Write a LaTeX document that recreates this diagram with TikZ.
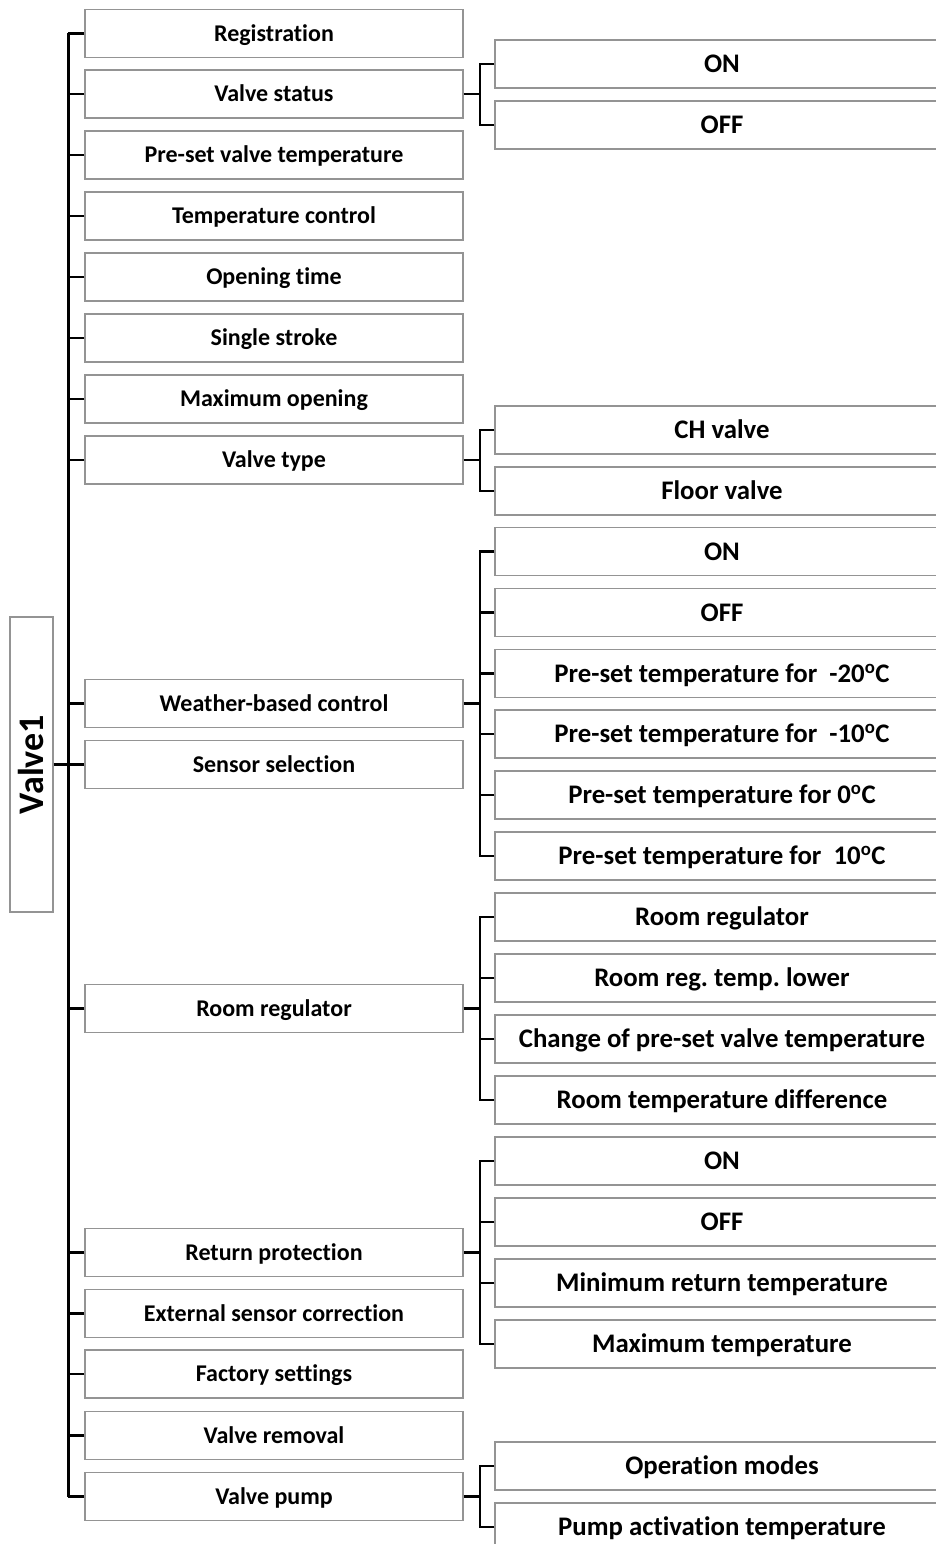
\documentclass[tikz,border=0pt]{standalone}
\usepackage{fontspec}
\setmainfont{Carlito}[Ligatures={NoCommon}]
\frenchspacing
\begin{document}
\begin{tikzpicture}[x=1pt,y=-1pt,
  box/.style={draw=black!42,line width=1.3pt,fill=white,inner sep=0pt,text depth=0pt},
  lbox/.style={box,minimum width=378pt,minimum height=48pt,text height=15.4pt,font=\bfseries\fontsize{24}{28}\selectfont},
  rbox/.style={box,minimum width=454pt,minimum height=48pt,text height=17.2pt,font=\bfseries\fontsize{26.8}{30}\selectfont},
  trunk/.style={line width=3pt,black},
  branch/.style={line width=2.2pt,black}]
\useasboundingbox (0,0) rectangle (936,1544);
\clip (0,0) rectangle (936,1544);
\def\L{274}\def\R{722}
% root
\node[box,minimum width=295pt,minimum height=43pt,text height=23pt,rotate=90,font=\bfseries\fontsize{36}{40}\selectfont] (v1) at (31.5,764.5) {Valve1};
% left level
\node[lbox] (reg) at (\L,33.5) {Registration};
\node[lbox] (vs) at (\L,94) {Valve status};
\node[lbox] (pvt) at (\L,155) {Pre-set valve temperature};
\node[lbox] (tc) at (\L,216) {Temperature control};
\node[lbox] (ot) at (\L,277) {Opening time};
\node[lbox] (ss) at (\L,338) {Single stroke};
\node[lbox] (mo) at (\L,399) {Maximum opening};
\node[lbox] (vt) at (\L,460) {Valve type};
\node[lbox] (wb) at (\L,703.5) {Weather-based control};
\node[lbox] (sel) at (\L,764.5) {Sensor selection};
\node[lbox] (rr) at (\L,1008.5) {Room regulator};
\node[lbox] (rp) at (\L,1252.5) {Return protection};
\node[lbox] (esc) at (\L,1313.5) {External sensor correction};
\node[lbox] (fs) at (\L,1374) {Factory settings};
\node[lbox] (vr) at (\L,1435.5) {Valve removal};
\node[lbox] (vp) at (\L,1496.5) {Valve pump};
% right level
\node[rbox] (vson) at (\R,64) {ON};
\node[rbox] (vsoff) at (\R,125) {OFF};
\node[rbox] (ch) at (\R,430) {CH valve};
\node[rbox] (fv) at (\R,491) {Floor valve};
\node[rbox] (wbon) at (\R,551.5) {ON};
\node[rbox] (wboff) at (\R,612.5) {OFF};
\node[rbox] (t1) at (\R,673.5) {Pre-set temperature for\ \ -20\textsuperscript{o}C};
\node[rbox] (t2) at (\R,734) {Pre-set temperature for\ \ -10\textsuperscript{o}C};
\node[rbox] (t3) at (\R,795) {Pre-set temperature for 0\textsuperscript{o}C};
\node[rbox] (t4) at (\R,856) {Pre-set temperature for\ \ 10\textsuperscript{o}C};
\node[rbox] (rr1) at (\R,917) {Room regulator};
\node[rbox] (rr2) at (\R,978) {Room reg. temp. lower};
\node[rbox] (rr3) at (\R,1039) {Change of pre-set valve temperature};
\node[rbox] (rr4) at (\R,1100) {Room temperature difference};
\node[rbox] (rpon) at (\R,1161) {ON};
\node[rbox] (rpoff) at (\R,1222) {OFF};
\node[rbox] (rp3) at (\R,1283) {Minimum return temperature};
\node[rbox] (rp4) at (\R,1344) {Maximum temperature};
\node[rbox] (om) at (\R,1466) {Operation modes};
\node[rbox] (pa) at (\R,1527) {Pump activation temperature};
% trunk
\coordinate (ttop) at (68,33.5);
\coordinate (tbot) at (68,1496.5);
\draw[trunk] (ttop) -- (tbot);
\draw[branch] (v1.south) -- (v1.south -| ttop);
\foreach \n in {reg,vs,pvt,tc,ot,ss,mo,vt,wb,sel,rr,rp,esc,fs,vr,vp}
  \draw[branch] (\n.west) -- (\n.west -| ttop);
% sub branches
\foreach \p/\kids in {vs/{vson,vsoff},vt/{ch,fv},wb/{wbon,wboff,t1,t2,t3,t4},rr/{rr1,rr2,rr3,rr4},rp/{rpon,rpoff,rp3,rp4},vp/{om,pa}}{
  \draw[branch] (\p.east) -- ++(16,0) coordinate (j\p);
  \foreach \k in \kids
    \draw[branch] (\k.west) -| (j\p);
}
\end{tikzpicture}
\end{document}
